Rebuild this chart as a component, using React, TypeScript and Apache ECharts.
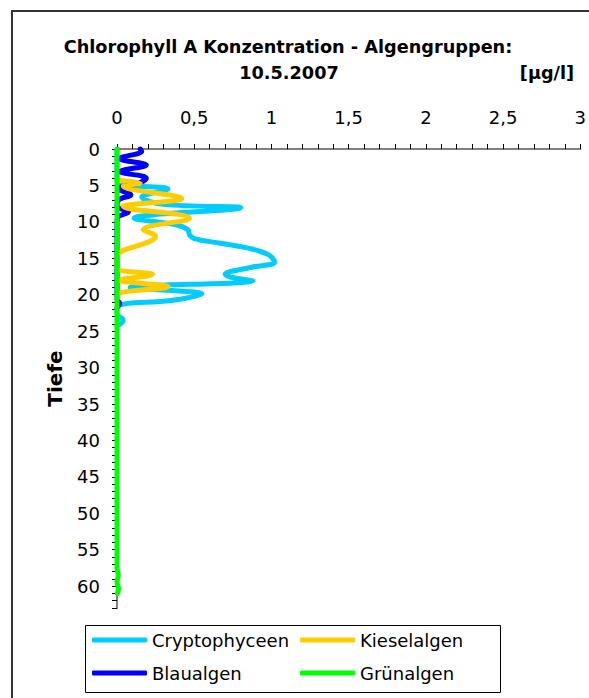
import React, { useEffect, useRef } from "react";
import * as echarts from "echarts";

// ---- data (value in µg/l, depth in m) ----
const seriesNames = ["Cryptophyceen", "Kieselalgen", "Blaualgen", "Grünalgen"];

const cryptoDepth = [0, 4.3, 4.9, 5.5, 6.6, 7.6, 8.05, 9.5, 10.4, 11.1, 11.8, 12.3, 12.9, 13.6, 14.5, 15.5, 16.2, 17.2, 17.6, 18.1, 19.0, 19.9, 20.8, 21.5, 22.6, 23.5, 24.3];
const cryptoValue = [0, 0, 0.04, 0.33, 0.16, 0.3, 0.8, 0.11, 0.38, 0.46, 0.47, 0.5, 0.66, 0.85, 0.98, 1.02, 0.88, 0.7, 0.74, 0.88, 0.085, 0.55, 0.35, 0.01, 0, 0.04, 0];

const kieselDepth = [4.3, 4.7, 5.1, 6.8, 7.9, 9.5, 11.1, 12.0, 12.6, 14.8, 16.3, 17.2, 18.0, 18.9, 19.8, 20.5];
const kieselValue = [0, 0.15, 0.04, 0.42, 0.04, 0.47, 0.17, 0.25, 0.22, 0, 0, 0.23, 0.02, 0.33, 0.01, 0];

const blauDepth = [0, 0.3, 1.3, 2.2, 3.1, 4.0, 4.6, 5.5, 6.3, 7.0, 7.9, 8.6, 9.4, 10.2, 20.6, 21.2, 21.8];
const blauValue = [0.15, 0.16, 0.02, 0.19, 0.02, 0.19, 0.15, 0.01, 0.09, 0.01, 0, 0.075, 0.005, 0, 0, 0.017, 0];

const gruenDepth = [0, 20, 40, 57.5, 58.5, 59.5, 60.3, 61];
const gruenValue = [0, 0, 0, 0, 0.008, 0, 0.01, 0.003];

const seriesColors = ["#00CCFF", "#FFCC00", "#0000FF", "#00FF00"];

const titleLine1 = "Chlorophyll A Konzentration - Algengruppen:";
const titleLine2 = "10.5.2007";
const unitLabel = "[µg/l]";
const yAxisName = "Tiefe";

const xMin = 0;
const xMax = 3;
const yMin = 0;
const yMax = 63;

const FONT = "'DejaVu Sans', Arial, sans-serif";

function pairs(depths: number[], values: number[]) {
  return depths.map((d, i) => [values[i], d]);
}

export default function App() {
  const ref = useRef<HTMLDivElement>(null);
  useEffect(() => {
    if (!ref.current) return;
    const chart = echarts.init(ref.current, null, { renderer: "svg" });
    const lineSeries = (name: string, depths: number[], values: number[], color: string, z: number) => ({
      name,
      type: "line",
      xAxisIndex: 0,
      yAxisIndex: 0,
      data: pairs(depths, values),
      smooth: 0.4,
      symbol: "none",
      showSymbol: false,
      z,
      lineStyle: { color, width: 5, cap: "round", join: "round" },
      itemStyle: { color },
    });
    const legendBase = {
      orient: "vertical",
      top: 631,
      padding: 0,
      itemGap: 15,
      itemWidth: 55,
      itemHeight: 5,
      icon: "roundRect",
      textStyle: { fontFamily: FONT, fontSize: 18, color: "#000" },
    };
    chart.setOption({
      animation: false,
      backgroundColor: "#ffffff",
      grid: { left: 117, top: 149, width: 468, height: 459, containLabel: false },
      xAxis: [
        {
          type: "value",
          position: "top",
          min: xMin,
          max: xMax,
          interval: 0.1,
          axisLine: { show: true, lineStyle: { color: "#000", width: 1 } },
          axisTick: { show: true, length: 5, lineStyle: { color: "#000" } },
          splitLine: { show: false },
          axisLabel: {
            interval: 0,
            margin: 23,
            color: "#000",
            fontFamily: FONT,
            fontSize: 18,
            formatter: (v: number) => {
              const t = Math.round(v * 10);
              return t % 5 === 0 ? String(t / 10).replace(".", ",") : "";
            },
          },
        },
        {
          type: "value",
          position: "bottom",
          min: xMin,
          max: xMax,
          axisLine: { show: true, lineStyle: { color: "#808080", width: 2 } },
          axisTick: { show: false },
          axisLabel: { show: false },
          splitLine: { show: false },
        },
      ],
      yAxis: [
        {
          type: "value",
          inverse: true,
          min: yMin,
          max: yMax,
          interval: 1,
          name: yAxisName,
          nameLocation: "middle",
          nameRotate: 90,
          nameGap: 52,
          nameTextStyle: { fontFamily: FONT, fontSize: 20, fontWeight: "bold", color: "#000" },
          axisLine: { show: true, lineStyle: { color: "#000", width: 1 } },
          axisTick: { show: true, length: 5, lineStyle: { color: "#000" } },
          splitLine: { show: false },
          axisLabel: {
            interval: 0,
            margin: 17,
            color: "#000",
            fontFamily: FONT,
            fontSize: 18,
            formatter: (v: number) => (Math.round(v) % 5 === 0 && v < yMax ? String(Math.round(v)) : ""),
          },
        },
        {
          type: "value",
          position: "right",
          inverse: true,
          min: yMin,
          max: yMax,
          axisLine: { show: true, lineStyle: { color: "#808080", width: 2 } },
          axisTick: { show: false },
          axisLabel: { show: false },
          splitLine: { show: false },
        },
      ],
      legend: [
        { ...legendBase, data: [seriesNames[0], seriesNames[2]], left: 92 },
        { ...legendBase, data: [seriesNames[1], seriesNames[3]], left: 300 },
      ],
      graphic: [
        {
          type: "rect",
          shape: { x: 12, y: 11, width: 800, height: 900 },
          style: { fill: "none", stroke: "#333", lineWidth: 2 },
          silent: true,
          z: -10,
        },
        {
          type: "rect",
          shape: { x: 85.5, y: 625.5, width: 415, height: 67 },
          style: { fill: "none", stroke: "#000", lineWidth: 1 },
          silent: true,
          z: -5,
        },
        {
          type: "text",
          x: 288,
          y: 47,
          style: { text: titleLine1, font: `bold 17.7px ${FONT}`, fill: "#000", textAlign: "center", textVerticalAlign: "middle" },
        },
        {
          type: "text",
          x: 289,
          y: 73,
          style: { text: titleLine2, font: `bold 17.7px ${FONT}`, fill: "#000", textAlign: "center", textVerticalAlign: "middle" },
        },
        {
          type: "text",
          x: 547,
          y: 73,
          style: { text: unitLabel, font: `bold 17.7px ${FONT}`, fill: "#000", textAlign: "center", textVerticalAlign: "middle" },
        },
      ],
      series: [
        lineSeries(seriesNames[0], cryptoDepth, cryptoValue, seriesColors[0], 2),
        lineSeries(seriesNames[2], blauDepth, blauValue, seriesColors[2], 3),
        lineSeries(seriesNames[1], kieselDepth, kieselValue, seriesColors[1], 4),
        lineSeries(seriesNames[3], gruenDepth, gruenValue, seriesColors[3], 5),
      ],
    });
    return () => chart.dispose();
  }, []);
  return (
    <div
      ref={ref}
      style={{ position: "fixed", left: 0, top: 0, width: 589, height: 698, background: "#fff" }}
    />
  );
}
